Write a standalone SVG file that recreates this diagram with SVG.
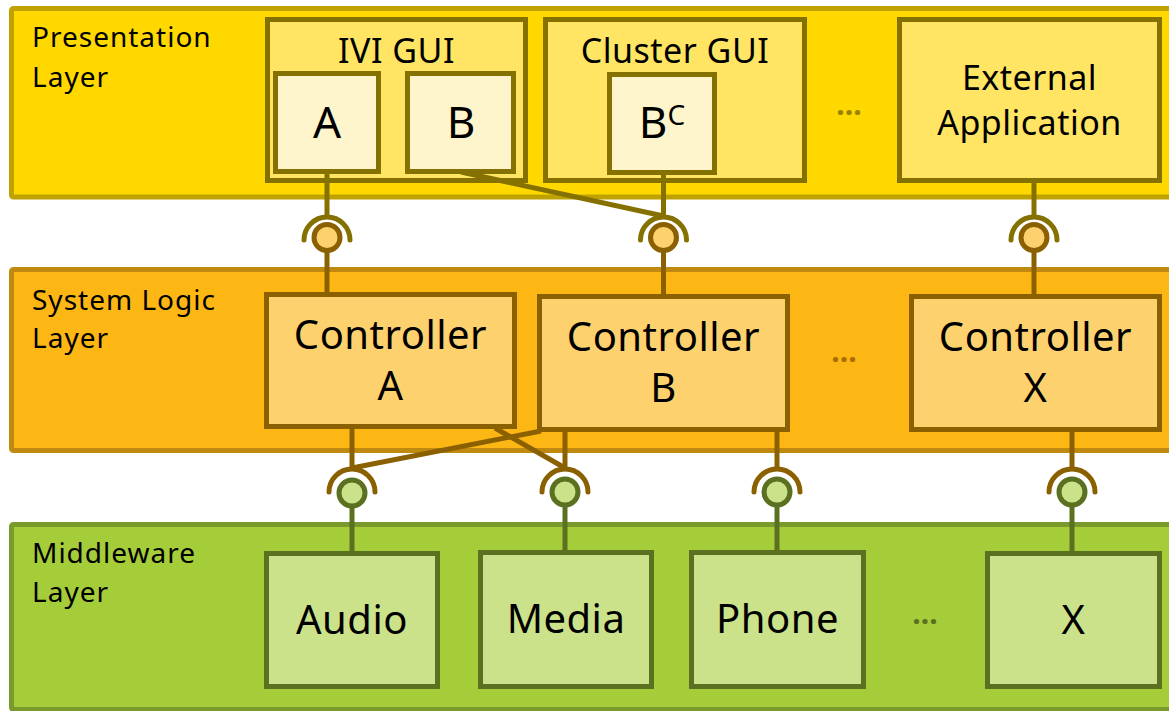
<svg xmlns="http://www.w3.org/2000/svg" width="1169" height="711" viewBox="0 0 1169 711">
  <style>
    text { font-family: "Noto Sans", "Open Sans", sans-serif; fill: #000; }
    .layer-label { font-size: 28px; letter-spacing: 1px; }
    .title { font-size: 34px; text-anchor: middle; letter-spacing: 0.5px; }
    .big { font-size: 44px; text-anchor: middle; }
    .ctrl { font-size: 40px; text-anchor: middle; letter-spacing: 0.5px; }
    .mw { font-size: 40px; text-anchor: middle; letter-spacing: 0.5px; }
    .dots { font-size: 30px; text-anchor: middle; font-weight: bold; }

    .band-pres { fill: #FFD800; stroke: #BFA200; stroke-width: 5; }
    .band-sys { fill: #FDB714; stroke: #C0890F; stroke-width: 5; }
    .band-mw { fill: #A5CD39; stroke: #7A9A2C; stroke-width: 5; }

    .box-pres { fill: #FFE563; stroke: #857100; stroke-width: 5; }
    .box-inner { fill: #FFF5CC; stroke: #857100; stroke-width: 5; }
    .box-ctrl { fill: #FDD26E; stroke: #8B6000; stroke-width: 5; }
    .box-mw { fill: #CBE28A; stroke: #5B7021; stroke-width: 5; }

    .wire-olive { stroke: #857100; stroke-width: 5; fill: none; }
    .wire-brown { stroke: #8B6000; stroke-width: 5; fill: none; }
    .wire-green { stroke: #5B7021; stroke-width: 5; fill: none; }
    .socket-olive { stroke: #857100; stroke-width: 5; fill: none; stroke-linecap: round; }
    .socket-brown { stroke: #8B6000; stroke-width: 5; fill: none; stroke-linecap: round; }
    .ball-orange { fill: #FDD26E; stroke: #8B6000; stroke-width: 5; }
    .ball-green { fill: #CBE28A; stroke: #5B7021; stroke-width: 5; }
  </style>

  <!-- Layer bands -->
  <g id="presentation-layer">
    <rect class="band-pres" x="11.5" y="8.5" width="1170" height="188.5" rx="2"/>
    <text class="layer-label" x="32" y="47">Presentation</text>
    <text class="layer-label" x="32" y="87">Layer</text>
    <text class="dots" x="849" y="115" fill="#857100" style="fill:#9A8200">...</text>
  </g>
  <g id="system-logic-layer">
    <rect class="band-sys" x="11.5" y="269.5" width="1170" height="181" rx="2"/>
    <text class="layer-label" x="32" y="310">System Logic</text>
    <text class="layer-label" x="32" y="348">Layer</text>
    <text class="dots" x="844" y="362" style="fill:#A86F00">...</text>
  </g>
  <g id="middleware-layer">
    <rect class="band-mw" x="11.5" y="524.5" width="1170" height="185" rx="2"/>
    <text class="layer-label" x="32" y="563">Middleware</text>
    <text class="layer-label" x="32" y="602">Layer</text>
    <text class="dots" x="925" y="624" style="fill:#5B7021">...</text>
  </g>

  <!-- Presentation nodes -->
  <g id="ivi-gui">
    <rect class="box-pres" x="267.5" y="19.5" width="258" height="161"/>
    <text class="title" x="396.5" y="63">IVI GUI</text>
  </g>
  <g id="ivi-a">
    <rect class="box-inner" x="275.5" y="73.5" width="103" height="98"/>
    <text class="big" x="327" y="138">A</text>
  </g>
  <g id="ivi-b">
    <rect class="box-inner" x="407.5" y="73.5" width="106" height="98"/>
    <text class="big" x="461" y="138">B</text>
  </g>
  <g id="cluster-gui">
    <rect class="box-pres" x="545.5" y="19.5" width="259" height="161"/>
    <text class="title" x="675" y="63">Cluster GUI</text>
  </g>
  <g id="cluster-bc">
    <rect class="box-inner" x="609.5" y="74.5" width="105" height="98"/>
    <text class="big" x="662" y="138">B<tspan font-size="28" dy="-13">C</tspan></text>
  </g>
  <g id="external-application">
    <rect class="box-pres" x="899.5" y="19.5" width="260" height="161"/>
    <text class="title" x="1029.5" y="90">External</text>
    <text class="title" x="1029.5" y="135">Application</text>
  </g>

  <!-- System logic nodes -->
  <g id="controller-a">
    <rect class="box-ctrl" x="266.5" y="294.5" width="248" height="132"/>
    <text class="ctrl" x="390.5" y="349">Controller</text>
    <text class="ctrl" x="390.5" y="400">A</text>
  </g>
  <g id="controller-b">
    <rect class="box-ctrl" x="539.5" y="296.5" width="248" height="133"/>
    <text class="ctrl" x="663.5" y="351">Controller</text>
    <text class="ctrl" x="663.5" y="402">B</text>
  </g>
  <g id="controller-x">
    <rect class="box-ctrl" x="911.5" y="296.5" width="248" height="133"/>
    <text class="ctrl" x="1035.5" y="351">Controller</text>
    <text class="ctrl" x="1035.5" y="402">X</text>
  </g>

  <!-- Middleware nodes -->
  <g id="audio">
    <rect class="box-mw" x="266.5" y="553.5" width="171" height="133"/>
    <text class="mw" x="352" y="634">Audio</text>
  </g>
  <g id="media">
    <rect class="box-mw" x="480.5" y="552.5" width="171" height="134"/>
    <text class="mw" x="566" y="633">Media</text>
  </g>
  <g id="phone">
    <rect class="box-mw" x="691.5" y="552.5" width="172" height="134"/>
    <text class="mw" x="777.5" y="633">Phone</text>
  </g>
  <g id="service-x">
    <rect class="box-mw" x="987.5" y="553.5" width="172" height="133"/>
    <text class="mw" x="1073.5" y="634">X</text>
  </g>

  <!-- Connectors: provided interfaces (balls) and required interfaces (sockets) -->
  <g id="connectors">
    <!-- Presentation to system logic -->
    <line class="wire-olive" x1="327" y1="172" x2="327" y2="217"/>
    <line class="wire-olive" x1="461" y1="172" x2="663.5" y2="216"/>
    <line class="wire-olive" x1="663.5" y1="173" x2="663.5" y2="217"/>
    <line class="wire-olive" x1="1034" y1="181" x2="1034" y2="217"/>

    <path class="socket-olive" d="M304 240 A23 23 0 0 1 350 240"/>
    <path class="socket-olive" d="M640.5 240 A23 23 0 0 1 686.5 240"/>
    <path class="socket-olive" d="M1011 240 A23 23 0 0 1 1057 240"/>

    <line class="wire-brown" x1="327" y1="250" x2="327" y2="295"/>
    <line class="wire-brown" x1="663.5" y1="250" x2="663.5" y2="297"/>
    <line class="wire-brown" x1="1034" y1="250" x2="1034" y2="297"/>

    <circle class="ball-orange" cx="327" cy="237.5" r="13"/>
    <circle class="ball-orange" cx="663.5" cy="237.5" r="13"/>
    <circle class="ball-orange" cx="1034" cy="237.5" r="13"/>

    <!-- System logic to middleware -->
    <line class="wire-brown" x1="352" y1="427" x2="352" y2="469"/>
    <line class="wire-brown" x1="541" y1="431" x2="352" y2="468"/>
    <line class="wire-brown" x1="495" y1="428" x2="565" y2="468"/>
    <line class="wire-brown" x1="565" y1="430" x2="565" y2="469"/>
    <line class="wire-brown" x1="777" y1="430" x2="777" y2="469"/>
    <line class="wire-brown" x1="1072" y1="430" x2="1072" y2="469"/>

    <path class="socket-brown" d="M329 492 A23 23 0 0 1 375 492"/>
    <path class="socket-brown" d="M542 492 A23 23 0 0 1 588 492"/>
    <path class="socket-brown" d="M754 492 A23 23 0 0 1 800 492"/>
    <path class="socket-brown" d="M1049 492 A23 23 0 0 1 1095 492"/>

    <line class="wire-green" x1="352" y1="505" x2="352" y2="554"/>
    <line class="wire-green" x1="565" y1="505" x2="565" y2="553"/>
    <line class="wire-green" x1="777" y1="505" x2="777" y2="553"/>
    <line class="wire-green" x1="1072" y1="505" x2="1072" y2="554"/>

    <circle class="ball-green" cx="352" cy="493" r="13"/>
    <circle class="ball-green" cx="565" cy="492" r="13"/>
    <circle class="ball-green" cx="777" cy="492" r="13"/>
    <circle class="ball-green" cx="1072" cy="492" r="13"/>
  </g>
</svg>
